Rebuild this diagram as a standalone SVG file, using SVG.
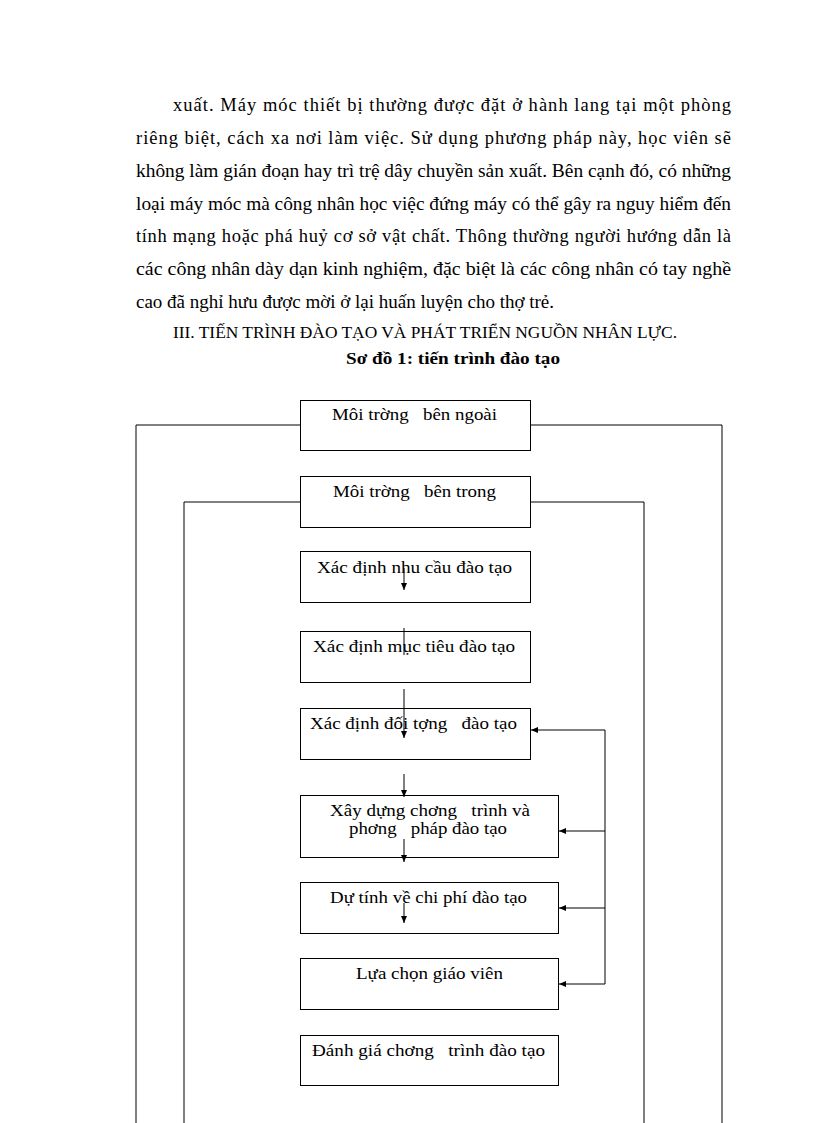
<svg xmlns="http://www.w3.org/2000/svg" width="816" height="1123" viewBox="0 0 816 1123">
<defs>
<style>
.body{font-family:"Liberation Serif","Times New Roman",serif;font-size:18.5px;fill:#000;}
.hd{font-family:"Liberation Serif","Times New Roman",serif;font-size:16px;fill:#000;}
.ttl{font-family:"Liberation Serif","Times New Roman",serif;font-size:17px;font-weight:bold;fill:#000;}
.lbl{font-family:"Liberation Serif","Times New Roman",serif;font-size:17px;fill:#000;white-space:pre;}
.box{fill:#fff;stroke:#000;stroke-width:1;}
.ln{fill:none;stroke:#000;stroke-width:1;}
</style>
<marker id="ah" markerWidth="8" markerHeight="8" refX="7" refY="4" orient="auto" markerUnits="userSpaceOnUse">
<path d="M0,1 L7,4 L0,7 Z" fill="#000"/>
</marker>
</defs>
<rect width="816" height="1123" fill="#fff"/>
<g id="paragraph">
<text class="body" x="173" y="111" textLength="558" lengthAdjust="spacing">xuất. Máy móc thiết bị thường được đặt ở hành lang tại một phòng</text>
<text class="body" x="136" y="144" textLength="595" lengthAdjust="spacing">riêng biệt, cách xa nơi làm việc. Sử dụng phương pháp này, học viên sẽ</text>
<text class="body" x="136" y="177" textLength="595" lengthAdjust="spacingAndGlyphs">không làm gián đoạn hay trì trệ dây chuyền sản xuất. Bên cạnh đó, có những</text>
<text class="body" x="136" y="210" textLength="595" lengthAdjust="spacingAndGlyphs">loại máy móc mà công nhân học việc đứng máy có thể gây ra nguy hiểm đến</text>
<text class="body" x="136" y="242" textLength="595" lengthAdjust="spacing">tính mạng hoặc phá huỷ cơ sở vật chất. Thông thường người hướng dẫn là</text>
<text class="body" x="136" y="275" textLength="595" lengthAdjust="spacingAndGlyphs">các công nhân dày dạn kinh nghiệm, đặc biệt là các công nhân có tay nghề</text>
<text class="body" x="136" y="308" textLength="418" lengthAdjust="spacingAndGlyphs">cao đã nghỉ hưu được mời ở lại huấn luyện cho thợ trẻ.</text>
<text class="hd" x="173" y="338" textLength="504" lengthAdjust="spacingAndGlyphs">III. TIẾN TRÌNH ĐÀO TẠO VÀ PHÁT TRIỂN NGUỒN NHÂN LỰC.</text>
<text class="ttl" x="346" y="364" textLength="214" lengthAdjust="spacingAndGlyphs">Sơ đồ 1: tiến trình đào tạo</text>
</g>
<g id="connectors">
<polyline class="ln" points="300,425 136,425 136,1123"/>
<polyline class="ln" points="530,425 722,425 722,1123"/>
<polyline class="ln" points="300,502 184,502 184,1123"/>
<polyline class="ln" points="530,502 644,502 644,1123"/>
<line class="ln" x1="605" y1="730" x2="605" y2="984"/>
</g>
<g id="n1"><rect class="box" x="300.5" y="400.5" width="230" height="50"/><text class="lbl" xml:space="preserve" x="332" y="420" textLength="165" lengthAdjust="spacingAndGlyphs">Môi trờng   bên ngoài</text></g>
<g id="n2"><rect class="box" x="300.5" y="476.5" width="230" height="51"/><text class="lbl" xml:space="preserve" x="333" y="497" textLength="163" lengthAdjust="spacingAndGlyphs">Môi trờng   bên trong</text></g>
<g id="n3"><rect class="box" x="300.5" y="551.5" width="230" height="51"/><text class="lbl" x="317" y="573" textLength="195" lengthAdjust="spacingAndGlyphs">Xác định nhu cầu đào tạo</text></g>
<g id="n4"><rect class="box" x="300.5" y="631.5" width="230" height="51"/><text class="lbl" x="313" y="652" textLength="202" lengthAdjust="spacingAndGlyphs">Xác định mục tiêu đào tạo</text></g>
<g id="n5"><rect class="box" x="300.5" y="708.5" width="230" height="51"/><text class="lbl" xml:space="preserve" x="310" y="729" textLength="207" lengthAdjust="spacingAndGlyphs">Xác định đối tợng   đào tạo</text></g>
<g id="n6"><rect class="box" x="300.5" y="795.5" width="258" height="62"/><text class="lbl" xml:space="preserve" x="330" y="816" textLength="200" lengthAdjust="spacingAndGlyphs">Xây dựng chơng   trình và</text><text class="lbl" xml:space="preserve" x="349" y="834" textLength="158" lengthAdjust="spacingAndGlyphs">phơng   pháp đào tạo</text></g>
<g id="n7"><rect class="box" x="300.5" y="882.5" width="258" height="51"/><text class="lbl" x="330" y="903" textLength="197" lengthAdjust="spacingAndGlyphs">Dự tính về chi phí đào tạo</text></g>
<g id="n8"><rect class="box" x="300.5" y="958.5" width="258" height="51"/><text class="lbl" x="356" y="979" textLength="147" lengthAdjust="spacingAndGlyphs">Lựa chọn giáo viên</text></g>
<g id="n9"><rect class="box" x="300.5" y="1035.5" width="258" height="50"/><text class="lbl" xml:space="preserve" x="312" y="1056" textLength="233" lengthAdjust="spacingAndGlyphs">Đánh giá chơng   trình đào tạo</text></g>
<g id="arrows">
<line class="ln" x1="404" y1="568" x2="404" y2="590" marker-end="url(#ah)"/>
<line class="ln" x1="404" y1="628" x2="404" y2="655"/>
<line class="ln" x1="404" y1="689" x2="404" y2="738" marker-end="url(#ah)"/>
<line class="ln" x1="404" y1="774" x2="404" y2="797" marker-end="url(#ah)"/>
<line class="ln" x1="404" y1="839" x2="404" y2="862" marker-end="url(#ah)"/>
<line class="ln" x1="404" y1="903" x2="404" y2="923" marker-end="url(#ah)"/>
<line class="ln" x1="605" y1="730" x2="531" y2="730" marker-end="url(#ah)"/>
<line class="ln" x1="605" y1="831" x2="559" y2="831" marker-end="url(#ah)"/>
<line class="ln" x1="605" y1="908" x2="559" y2="908" marker-end="url(#ah)"/>
<line class="ln" x1="605" y1="984" x2="559" y2="984" marker-end="url(#ah)"/>
</g>
</svg>
